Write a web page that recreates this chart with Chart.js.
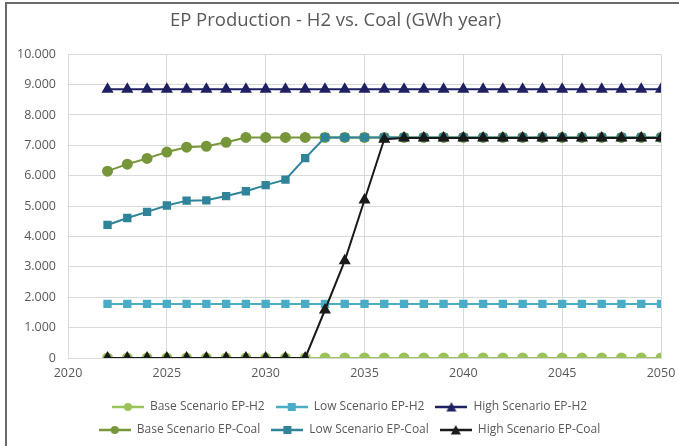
<!DOCTYPE html>
<html>
<head>
<meta charset="utf-8">
<script src="https://cdn.jsdelivr.net/npm/chart.js@4/dist/chart.umd.min.js"></script>
<style>
  html, body { margin: 0; padding: 0; background: #fff; }
  #wrap { position: relative; width: 679px; height: 446px; }
  #frame { position: absolute; left: 5px; top: 2px; right: 0; bottom: 0;
           border-top: 2px solid #6b6b6b; border-left: 2px solid #6b6b6b; pointer-events: none; }
</style>
</head>
<body>
<div id="wrap">
  <canvas id="chart" width="679" height="446"></canvas>
  <div id="frame"></div>
</div>
<script>
// years 2022..2050
const years = [2022, 2023, 2024, 2025, 2026, 2027, 2028, 2029, 2030, 2031, 2032, 2033, 2034, 2035, 2036,
  2037, 2038, 2039, 2040, 2041, 2042, 2043, 2044, 2045, 2046, 2047, 2048, 2049, 2050];

const baseH2 = [0, 0, 0, 0, 0, 0, 0, 0, 0, 0, 0, 0, 0, 0, 0, 0, 0, 0, 0, 0, 0, 0, 0, 0, 0, 0, 0, 0, 0];
const lowH2 = [1780, 1780, 1780, 1780, 1780, 1780, 1780, 1780, 1780, 1780, 1780, 1780, 1780, 1780, 1780,
  1780, 1780, 1780, 1780, 1780, 1780, 1780, 1780, 1780, 1780, 1780, 1780, 1780, 1780];
const highH2 = [8850, 8850, 8850, 8850, 8850, 8850, 8850, 8850, 8850, 8850, 8850, 8850, 8850, 8850, 8850,
  8850, 8850, 8850, 8850, 8850, 8850, 8850, 8850, 8850, 8850, 8850, 8850, 8850, 8850];
const baseCoal = [6150, 6380, 6570, 6780, 6940, 6970, 7100, 7260, 7260, 7260, 7260, 7260, 7260, 7260, 7260,
  7260, 7260, 7260, 7260, 7260, 7260, 7260, 7260, 7260, 7260, 7260, 7260, 7260, 7260];
const lowCoal = [4380, 4610, 4810, 5020, 5180, 5190, 5330, 5490, 5690, 5870, 6580, 7260, 7260, 7260, 7260,
  7260, 7260, 7260, 7260, 7260, 7260, 7260, 7260, 7260, 7260, 7260, 7260, 7260, 7260];
const highCoal = [0, 0, 0, 0, 0, 0, 0, 0, 0, 0, 0, 1580, 3200, 5200, 7200,
  7240, 7240, 7240, 7240, 7240, 7240, 7240, 7240, 7240, 7240, 7240, 7240, 7240, 7240];

const series = [
  { label: 'Base Scenario EP-H2', data: baseH2, color: '#9bc25a', marker: 'circle', radius: 4.5 },
  { label: 'Low Scenario EP-H2', data: lowH2, color: '#4bacc6', marker: 'rect', radius: 4.5 },
  { label: 'High Scenario EP-H2', data: highH2, color: '#1f2162', marker: 'triangle', radius: 5 },
  { label: 'Base Scenario EP-Coal', data: baseCoal, color: '#77963a', marker: 'circle', radius: 4.5 },
  { label: 'Low Scenario EP-Coal', data: lowCoal, color: '#2f849a', marker: 'rect', radius: 4.5 },
  { label: 'High Scenario EP-Coal', data: highCoal, color: '#1a1a1a', marker: 'triangle', radius: 5 },
];

// little line + marker icon for the legend, like Excel draws it
function legendIcon(color, marker) {
  const c = document.createElement('canvas');
  c.width = 32;
  c.height = 12;
  const g = c.getContext('2d');
  g.strokeStyle = color;
  g.fillStyle = color;
  g.lineWidth = 2.5;
  g.beginPath();
  g.moveTo(0, 6);
  g.lineTo(32, 6);
  g.stroke();
  g.beginPath();
  if (marker === 'circle') {
    g.arc(16, 6, 4, 0, Math.PI * 2);
  } else if (marker === 'rect') {
    g.rect(12, 2, 8, 8);
  } else {
    g.moveTo(16, 1);
    g.lineTo(21, 10.5);
    g.lineTo(11, 10.5);
    g.closePath();
  }
  g.fill();
  return c;
}

const fmt = (v) => {
  if (v === 0) return '0';
  return Math.round(v).toString().replace(/\B(?=(\d{3})+(?!\d))/g, '.');
};

// nudge the legend a bit right, Excel centres it under the plot
const legendShift = {
  id: 'legendShift',
  afterLayout(chart) {
    chart.legend.left += 14;
    chart.legend.right += 14;
  },
};

new Chart(document.getElementById('chart'), {
  type: 'line',
  data: {
    datasets: series.map((s, i) => ({
      label: s.label,
      data: s.data.map((v, j) => ({ x: years[j], y: v })),
      borderColor: s.color,
      backgroundColor: s.color,
      pointBackgroundColor: s.color,
      pointBorderColor: s.color,
      pointStyle: s.marker,
      pointRadius: s.radius,
      borderWidth: 2,
      tension: 0,
      order: series.length - i, // later series on top, like Excel
      icon: legendIcon(s.color, s.marker),
    })),
  },
  plugins: [legendShift],
  options: {
    responsive: false,
    animation: false,
    layout: { padding: { left: 10, right: 18, top: 4, bottom: 0 } },
    plugins: {
      title: {
        display: true,
        text: 'EP Production - H2 vs. Coal (GWh year)',
        color: '#595959',
        font: { family: 'Open Sans', size: 18.5, weight: 'normal' },
        padding: { top: 6, bottom: 22 },
      },
      legend: {
        position: 'bottom',
        labels: {
          usePointStyle: true,
          pointStyleWidth: 32,
          padding: 11,
          color: '#595959',
          font: { family: 'Open Sans', size: 12 },
          generateLabels: (chart) => chart.data.datasets.map((ds, i) => ({
            text: ds.label,
            pointStyle: ds.icon,
            fillStyle: ds.borderColor,
            strokeStyle: ds.borderColor,
            lineWidth: 0,
            hidden: false,
            datasetIndex: i,
            fontColor: '#595959',
          })),
        },
      },
      tooltip: { enabled: false },
    },
    scales: {
      x: {
        type: 'linear',
        min: 2020,
        max: 2050,
        ticks: {
          stepSize: 5,
          color: '#595959',
          font: { family: 'Open Sans', size: 12.5 },
          callback: (v) => String(v),
          padding: 8,
        },
        grid: { color: '#d9d9d9', drawTicks: false },
        border: { color: '#d9d9d9' },
        afterFit: (scale) => {
          scale.height = 32;
          scale.paddingLeft = 0;
          scale.paddingRight = 0;
        },
      },
      y: {
        min: 0,
        max: 10000,
        ticks: {
          stepSize: 1000,
          color: '#595959',
          font: { family: 'Open Sans', size: 12.5 },
          callback: (v) => fmt(v),
          padding: 12,
        },
        grid: { color: '#d9d9d9', drawTicks: false },
        border: { color: '#d9d9d9' },
        afterFit: (scale) => { scale.width = 58; },
      },
    },
  },
});
</script>
</body>
</html>
